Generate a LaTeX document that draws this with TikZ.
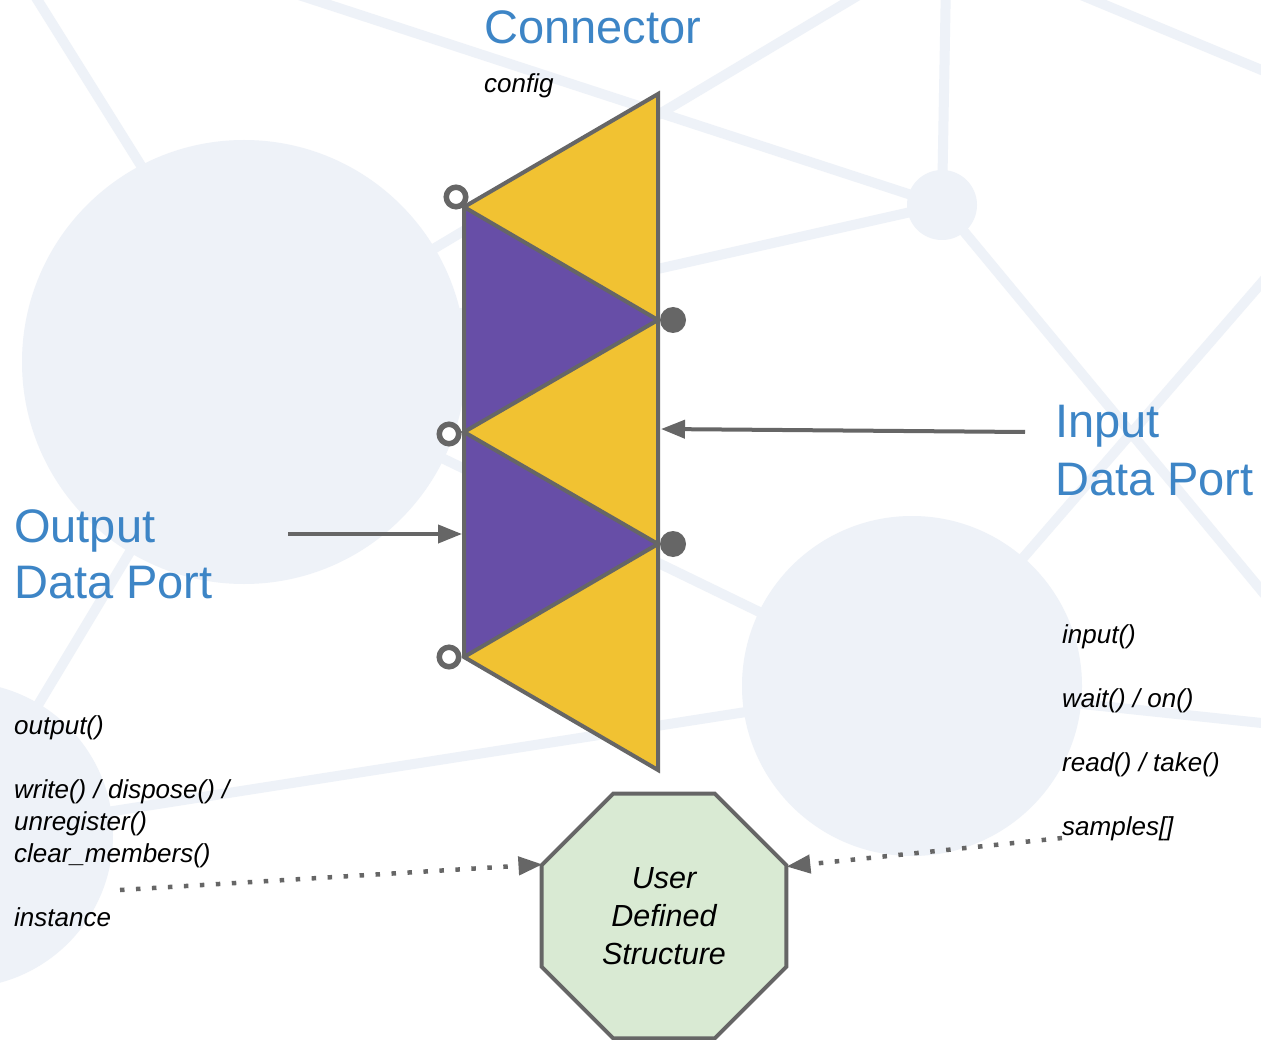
\documentclass[tikz,border=0pt]{standalone}
\usepackage{fontspec}
\setmainfont{Liberation Sans}
\usetikzlibrary{shapes.geometric,arrows.meta}

\definecolor{bgnet}{HTML}{EEF2F8}
\definecolor{edgegray}{HTML}{666666}
\definecolor{portyellow}{HTML}{F1C232}
\definecolor{portpurple}{HTML}{674EA7}
\definecolor{titleblue}{HTML}{3D85C6}
\definecolor{structgreen}{HTML}{D9EAD3}

\begin{document}
\begin{tikzpicture}[x=1pt,y=-1pt,
  netline/.style={draw=bgnet, line width=10pt},
  netdisc/.style={fill=bgnet},
  title/.style={text=titleblue, font=\fontsize{47}{57}\selectfont, inner sep=0pt, anchor=base west},
  method/.style={font=\itshape\fontsize{26}{32}\selectfont, inner sep=0pt, anchor=base west},
  wedge/.style={draw=edgegray, line width=4pt, line join=miter},
  openport/.style={circle, draw=edgegray, fill=white, line width=5.5pt, minimum size=19.5pt, inner sep=0pt},
  fullport/.style={circle, fill=edgegray, minimum size=26pt, inner sep=0pt},
  solidarrow/.style={draw=edgegray, line width=4pt, -{Triangle[length=24pt,width=18pt]}},
  dotarrow/.style={draw=edgegray, line width=4.5pt, dash pattern=on 4.5pt off 11.5pt, -{Triangle[length=24pt,width=18pt]}},
  structbox/.style={regular polygon, regular polygon sides=8, minimum size=265pt,
    inner sep=0pt, outer sep=0pt, draw=edgegray, fill=structgreen, line width=4pt,
    font=\itshape\fontsize{30.5}{38}\selectfont, align=center}
]
\useasboundingbox (0,0) rectangle (1261,1040);
\fill[white] (0,0) rectangle (1261,1040);

% faint network in the background
\begin{scope}
  \clip (0,0) rectangle (1261,1040);
  \coordinate (hubA) at (244,362);
  \coordinate (hubB) at (-40,835);
  \coordinate (hubC) at (912,686);
  \coordinate (hubD) at (942,205);
  \draw[netline] (25,-20) -- (200,260);
  \draw[netline] (hubD) -- (253,-20);
  \draw[netline] (hubA) -- (884,-20);
  \draw[netline] (hubD) -- (946,-20);
  \draw[netline] (1045,-20) -- (1300,86);
  \draw[netline] (hubD) -- (hubA);
  \draw[netline] (hubD) -- (1290,625);
  \draw[netline] (hubC) -- (1290,250);
  \draw[netline] (hubC) -- (1290,726);
  \draw[netline] (hubC) -- (hubB);
  \draw[netline] (hubA) -- (hubC);
  \draw[netline] (hubB) -- (hubA);
  \fill[netdisc] (hubA) circle (222pt);
  \fill[netdisc] (hubB) circle (153pt);
  \fill[netdisc] (hubC) circle (170pt);
  \fill[netdisc] (hubD) circle (35pt);
\end{scope}

% connector: stacked triangles
\coordinate (r0) at (658,94);
\coordinate (l1) at (464,207);
\coordinate (r2) at (658,320);
\coordinate (l3) at (464,432);
\coordinate (r4) at (658,544);
\coordinate (l5) at (464,657);
\coordinate (r6) at (658,770);
\fill[portyellow] (r0) -- (l1) -- (r2) -- cycle;
\fill[portpurple] (l1) -- (r2) -- (l3) -- cycle;
\fill[portyellow] (r2) -- (l3) -- (r4) -- cycle;
\fill[portpurple] (l3) -- (r4) -- (l5) -- cycle;
\fill[portyellow] (r4) -- (l5) -- (r6) -- cycle;
\draw[wedge] (r0) -- (l1) -- (l5) -- (r6) -- cycle;
\draw[wedge] (l1) -- (r2) -- (l3) -- (r4) -- (l5);

% ports
\node[openport] (op1) at (456,197) {};
\node[openport] (op2) at (449,434) {};
\node[openport] (op3) at (449,657) {};
\node[fullport] (fp1) at (673,320) {};
\node[fullport] (fp2) at (673,544) {};

% titles
\node[title] (conn) at (484,44) {Connector};
\node[title] (inA) at (1055,437) {Input};
\node[title] (inB) at (1055,495) {Data Port};
\node[title] (outA) at (14,542) {Output};
\node[title] (outB) at (14,598) {Data Port};

% method names
\node[method] (cfg) at (484,93) {config};
\node[method] (m1) at (14,734) {output()};
\node[method] (m2) at (14,798) {write() / dispose() /};
\node[method] (m3) at (14,830) {unregister()};
\node[method] (m4) at (14,862) {clear\_members()};
\node[method] (m5) at (14,926) {instance};
\node[method] (n1) at (1062,643) {input()};
\node[method] (n2) at (1062,707) {wait() / on()};
\node[method] (n3) at (1062,771) {read() / take()};
\node[method] (n4) at (1062,835) {samples[]};

% user data
\node[structbox] (ud) at (664,916) {User\\Defined\\Structure};

% arrows
\coordinate (inTail) at (1025,432);
\coordinate (inTip) at (661,429);
\draw[solidarrow] (inTail) -- (inTip);
\coordinate (outTail) at (288,534);
\coordinate (outTip) at (462,534);
\draw[solidarrow] (outTail) -- (outTip);
\coordinate (wrTail) at (120,890);
\draw[dotarrow] (wrTail) -- (ud.157.5);
\coordinate (rdTail) at (1062,838);
\draw[dotarrow] (rdTail) -- (ud.22.5);
\end{tikzpicture}
\end{document}
